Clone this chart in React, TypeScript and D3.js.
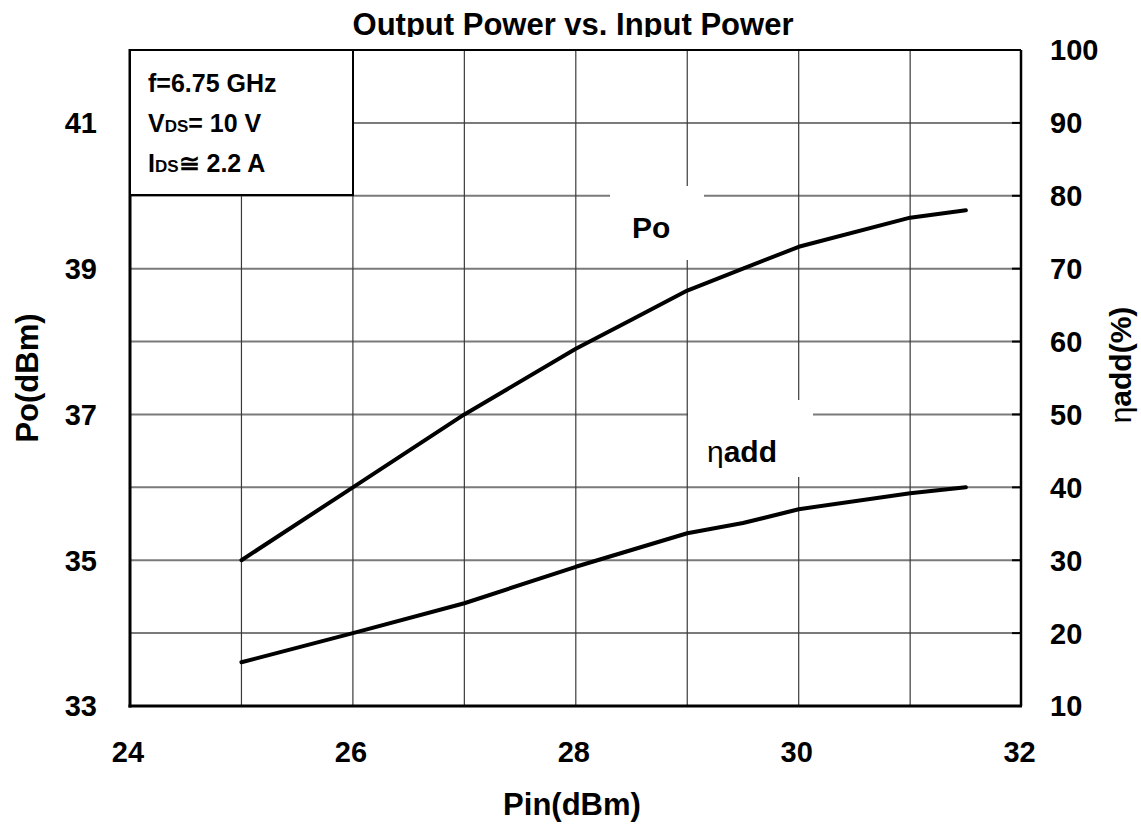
import React from 'react';
import * as d3 from 'd3';

const pinPo = [25, 26, 27, 28, 28.5, 29, 29.5, 30, 31, 31.5];
const po = [35.0, 36.0, 37.0, 37.9, 38.3, 38.7, 39.0, 39.3, 39.7, 39.8];

const pinEff = [25, 26, 27, 28, 29, 29.5, 30, 31, 31.5];
const eff = [16.0, 20.0, 24.1, 29.1, 33.7, 35.1, 37.0, 39.2, 40.0];

const xTicks = [24, 26, 28, 30, 32];
const xGrid = [25, 26, 27, 28, 29, 30, 31];
const poTicks = [33, 35, 37, 39, 41];
const poGrid = [34, 35, 36, 37, 38, 39, 40, 41];
const effTicks = [10, 20, 30, 40, 50, 60, 70, 80, 90, 100];

const conditions = [
  { main: 'f=6.75 GHz', sub: '', rest: '' },
  { main: 'V', sub: 'DS', rest: '= 10 V' },
  { main: 'I', sub: 'DS', rest: '\u2245 2.2 A' },
];

const FONT = '"Liberation Sans", Arial, sans-serif';

export default function App() {
  const width = 1141;
  const height = 824;
  const margin = { top: 50, right: 120, bottom: 118, left: 130 };
  const x0 = margin.left;
  const x1 = width - margin.right;
  const y0 = height - margin.bottom;
  const y1 = margin.top;

  const x = d3.scaleLinear().domain([24, 32]).range([x0, x1 + 0.6]);
  const yPo = d3.scaleLinear().domain([33, 42]).range([y0, y1]);
  const yEff = d3.scaleLinear().domain([10, 100]).range([y0, y1]);

  const poLine = d3.line<number>()
    .x((d, i) => x(pinPo[i]))
    .y(d => yPo(d));
  const effLine = d3.line<number>()
    .x((d, i) => x(pinEff[i]))
    .y(d => yEff(d));

  return (
    <svg width={width} height={height}
      style={{ position: 'absolute', left: 0, top: 0, background: '#fff' }}
      fontFamily={FONT} fontWeight="bold">
      <defs>
        <clipPath id="titleClip">
          <rect x={0} y={0} width={width} height={37} />
        </clipPath>
      </defs>

      {/* title */}
      <text x={573} y={35} textAnchor="middle" fontSize={31} clipPath="url(#titleClip)">
        Output Power vs. Input Power
      </text>

      {/* grid */}
      {poGrid.map(v => (
        <line key={'h' + v} x1={x0} x2={x1} y1={yPo(v)} y2={yPo(v)} stroke="#7a7a7a" strokeWidth={2} />
      ))}
      {xGrid.map(v => (
        <line key={'v' + v} x1={x(v)} x2={x(v)} y1={y1} y2={y0} stroke="#3a3a3a" strokeWidth={1.2} />
      ))}

      {/* right-side inner ticks */}
      {effTicks.map(v => (
        <line key={'rt' + v} x1={x1 - 9} x2={x1} y1={yEff(v)} y2={yEff(v)} stroke="#000" strokeWidth={2} />
      ))}

      {/* white label masks */}
      <rect x={610} y={186} width={94} height={74} fill="#fff" />
      <rect x={688} y={400} width={125} height={77} fill="#fff" />
      <text x={632} y={238} fontSize={30}>Po</text>
      <text x={707} y={462} fontSize={30}>
        <tspan fontWeight="normal">η</tspan>add
      </text>

      {/* curves */}
      <path d={poLine(po) || ''} fill="none" stroke="#000" strokeWidth={4} strokeLinejoin="round" strokeLinecap="round" />
      <path d={effLine(eff) || ''} fill="none" stroke="#000" strokeWidth={4} strokeLinejoin="round" strokeLinecap="round" />

      {/* frame */}
      <line x1={x0} x2={x1} y1={y1} y2={y1} stroke="#000" strokeWidth={2} />
      <line x1={x1} x2={x1} y1={y1} y2={y0} stroke="#000" strokeWidth={2.5} />
      <line x1={x0} x2={x0} y1={y1 - 1} y2={y0 + 1.5} stroke="#000" strokeWidth={3} />
      <line x1={x0 - 1.5} x2={x1 + 1} y1={y0} y2={y0} stroke="#000" strokeWidth={3} />

      {/* conditions box */}
      <rect x={x0} y={y1} width={223} height={145} fill="#fff" stroke="#000" strokeWidth={2} />
      {conditions.map((c, i) => (
        <text key={c.main} x={148} y={92 + i * 40} fontSize={25}>
          {c.main}
          {c.sub && <tspan fontSize={17}>{c.sub}</tspan>}
          {c.rest}
        </text>
      ))}

      {/* x axis labels */}
      {xTicks.map(v => (
        <text key={'xt' + v} x={x(v) - 2} y={762} textAnchor="middle" fontSize={29}>{v}</text>
      ))}
      <text x={572} y={815} textAnchor="middle" fontSize={31}>Pin(dBm)</text>

      {/* left axis labels */}
      {poTicks.map(v => (
        <text key={'yl' + v} x={97} y={yPo(v)} dy="0.36em" textAnchor="end" fontSize={29}>{v}</text>
      ))}
      <text transform={`translate(38,${378}) rotate(-90)`} textAnchor="middle" fontSize={31}>Po(dBm)</text>

      {/* right axis labels */}
      {effTicks.map(v => (
        <text key={'yr' + v} x={1050} y={yEff(v)} dy="0.36em" fontSize={29}>{v}</text>
      ))}
      <text transform={`translate(1131,${365}) rotate(-90)`} textAnchor="middle" fontSize={30}>
        <tspan fontWeight="normal">η</tspan>add(%)
      </text>
    </svg>
  );
}
